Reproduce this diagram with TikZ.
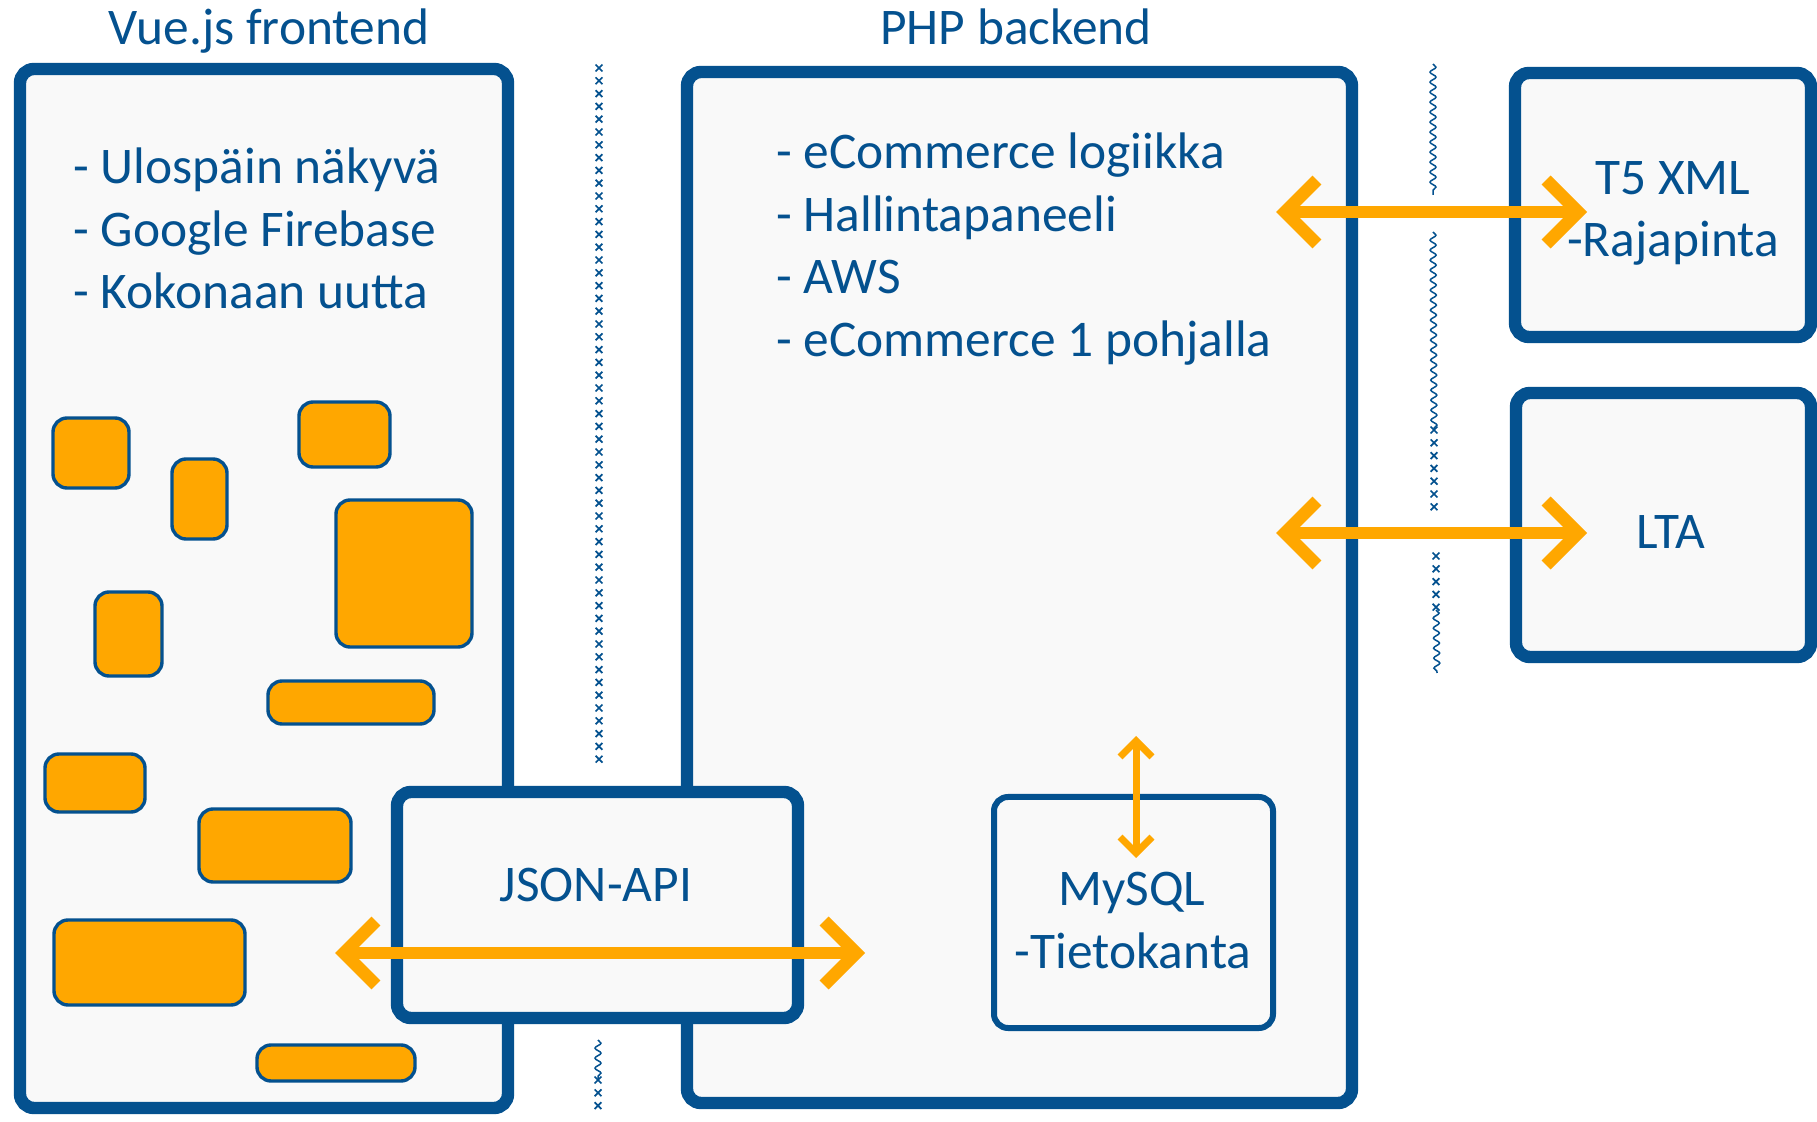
\documentclass[tikz,border=0pt]{standalone}
\usepackage{fontspec}
\setmainfont{Carlito}
\usetikzlibrary{arrows.meta,fit,decorations.pathmorphing,decorations.markings}
\definecolor{dblue}{RGB}{4,81,143}
\definecolor{orng}{RGB}{255,167,0}
\definecolor{pale}{RGB}{249,249,249}
\begin{document}
\begin{tikzpicture}[x=0.5pt,y=-0.5pt,
  bigbox/.style={draw=dblue, line width=6.2pt, fill=pale, rounded corners=7pt, inner sep=0pt, outer sep=0pt},
  dbbox/.style={draw=dblue, line width=3pt, fill=pale, rounded corners=7pt, inner sep=0pt, outer sep=0pt},
  blk/.style={draw=dblue, line width=1.7pt, fill=orng, rounded corners=7pt},
  txt/.style={text=dblue, font=\fontsize{25.7}{31.3}\selectfont, inner sep=0pt, anchor=base},
  lst/.style={txt, anchor=base west},
  biarrow/.style={draw=orng, line width=6.3pt,
    {Straight Barb[length=16pt,width=32pt]}-{Straight Barb[length=16pt,width=32pt]}},
  smarrow/.style={draw=orng, line width=3.5pt,
    {Straight Barb[length=8pt,width=16pt]}-{Straight Barb[length=8pt,width=16pt]}},
  wavy/.style={draw=dblue, line width=0.75pt, decorate,
    decoration={snake, amplitude=1.5pt, segment length=5pt}},
  crosses/.style={decorate, decoration={markings,
    mark=between positions 0 and 1 step 6.4pt with {\draw[dblue, line width=0.85pt]
      (-1.7pt,-1.7pt) -- (1.7pt,1.7pt) (-1.7pt,1.7pt) -- (1.7pt,-1.7pt);}}}
]
\fill[white] (0,0) rectangle (1817,1122);
\useasboundingbox (0,0) rectangle (1817,1122);

% separators
\coordinate (s1a) at (599,68);   \coordinate (s1b) at (599,771);
\coordinate (s1c) at (598,1040); \coordinate (s1d) at (598,1080);
\coordinate (s1e) at (598,1118);
\path[crosses] (s1a) -- (s1b);
\draw[wavy] (s1c) -- (s1d);
\path[crosses] (s1d) -- (s1e);

\coordinate (s2a) at (1433,64);  \coordinate (s2b) at (1433,195);
\coordinate (s2c) at (1433,232); \coordinate (s2d) at (1434,430);
\coordinate (s2e) at (1434,517);
\coordinate (s2f) at (1436,556); \coordinate (s2g) at (1436,610);
\coordinate (s2h) at (1437,673);
\draw[wavy] (s2a) -- (s2b);
\draw[wavy] (s2c) -- (s2d);
\path[crosses] (s2d) -- (s2e);
\path[crosses] (s2f) -- (s2g);
\draw[wavy] (s2g) -- (s2h);

% titles
\node[txt] (tfe) at (269,45) {Vue.js frontend};
\node[txt] (tbe) at (1016,45) {PHP backend};

% main boxes
\node[bigbox, fit={(20,69) (508,1108)}] (fe) {};
\node[bigbox, fit={(687,72) (1352,1103)}] (be) {};
\node[bigbox, fit={(1515,73) (1811,337)}] (t5) {};
\node[bigbox, fit={(1516,393) (1811,657)}] (lta) {};

% frontend list
\node[lst] (f1) at (73,184) {- Ulospäin näkyvä};
\node[lst] (f2) at (73,247) {- Google Firebase};
\node[lst] (f3) at (73,309) {- Kokonaan uutta};

% backend list
\node[lst] (b1) at (776,169) {- eCommerce logiikka};
\node[lst] (b2) at (776,232) {- Hallintapaneeli};
\node[lst] (b3) at (776,294) {- AWS};
\node[lst] (b4) at (776,357) {- eCommerce 1 pohjalla};

% orange components
\draw[blk] (53,418) rectangle (129,488);
\draw[blk] (172,459) rectangle (227,539);
\draw[blk] (299,402) rectangle (390,467);
\draw[blk] (336,500) rectangle (472,647);
\draw[blk] (95,592) rectangle (162,676);
\draw[blk] (268,681) rectangle (434,724);
\draw[blk] (45,754) rectangle (145,812);
\draw[blk] (199,809) rectangle (351,882);
\draw[blk] (54,920) rectangle (245,1005);
\draw[blk] (257,1045) rectangle (415,1081);

% JSON-API
\node[bigbox, fit={(397,792) (798,1018)}] (api) {};
\node[txt] (tapi) at (596,901) {JSON-API};

% MySQL
\node[dbbox, fit={(994,797) (1273,1028)}] (db) {};
\node[txt] (tdb1) at (1132,906) {MySQL};
\node[txt] (tdb2) at (1133,969) {-Tietokanta};

% external texts
\node[txt] (tt51) at (1673,195) {T5 XML};
\node[txt] (tt52) at (1673,257) {-Rajapinta};
\node[txt] (tlta) at (1671,549) {LTA};

% arrows
\coordinate (ja) at (335,953);  \coordinate (jb) at (865,953);
\coordinate (xa) at (1276,212); \coordinate (xb) at (1587,212);
\coordinate (la) at (1276,533); \coordinate (lb) at (1587,533);
\coordinate (ma) at (1136,736); \coordinate (mb) at (1136,858);
\draw[biarrow] (ja) -- (jb);
\draw[biarrow] (xa) -- (xb);
\draw[biarrow] (la) -- (lb);
\draw[smarrow] (ma) -- (mb);
\end{tikzpicture}
\end{document}
